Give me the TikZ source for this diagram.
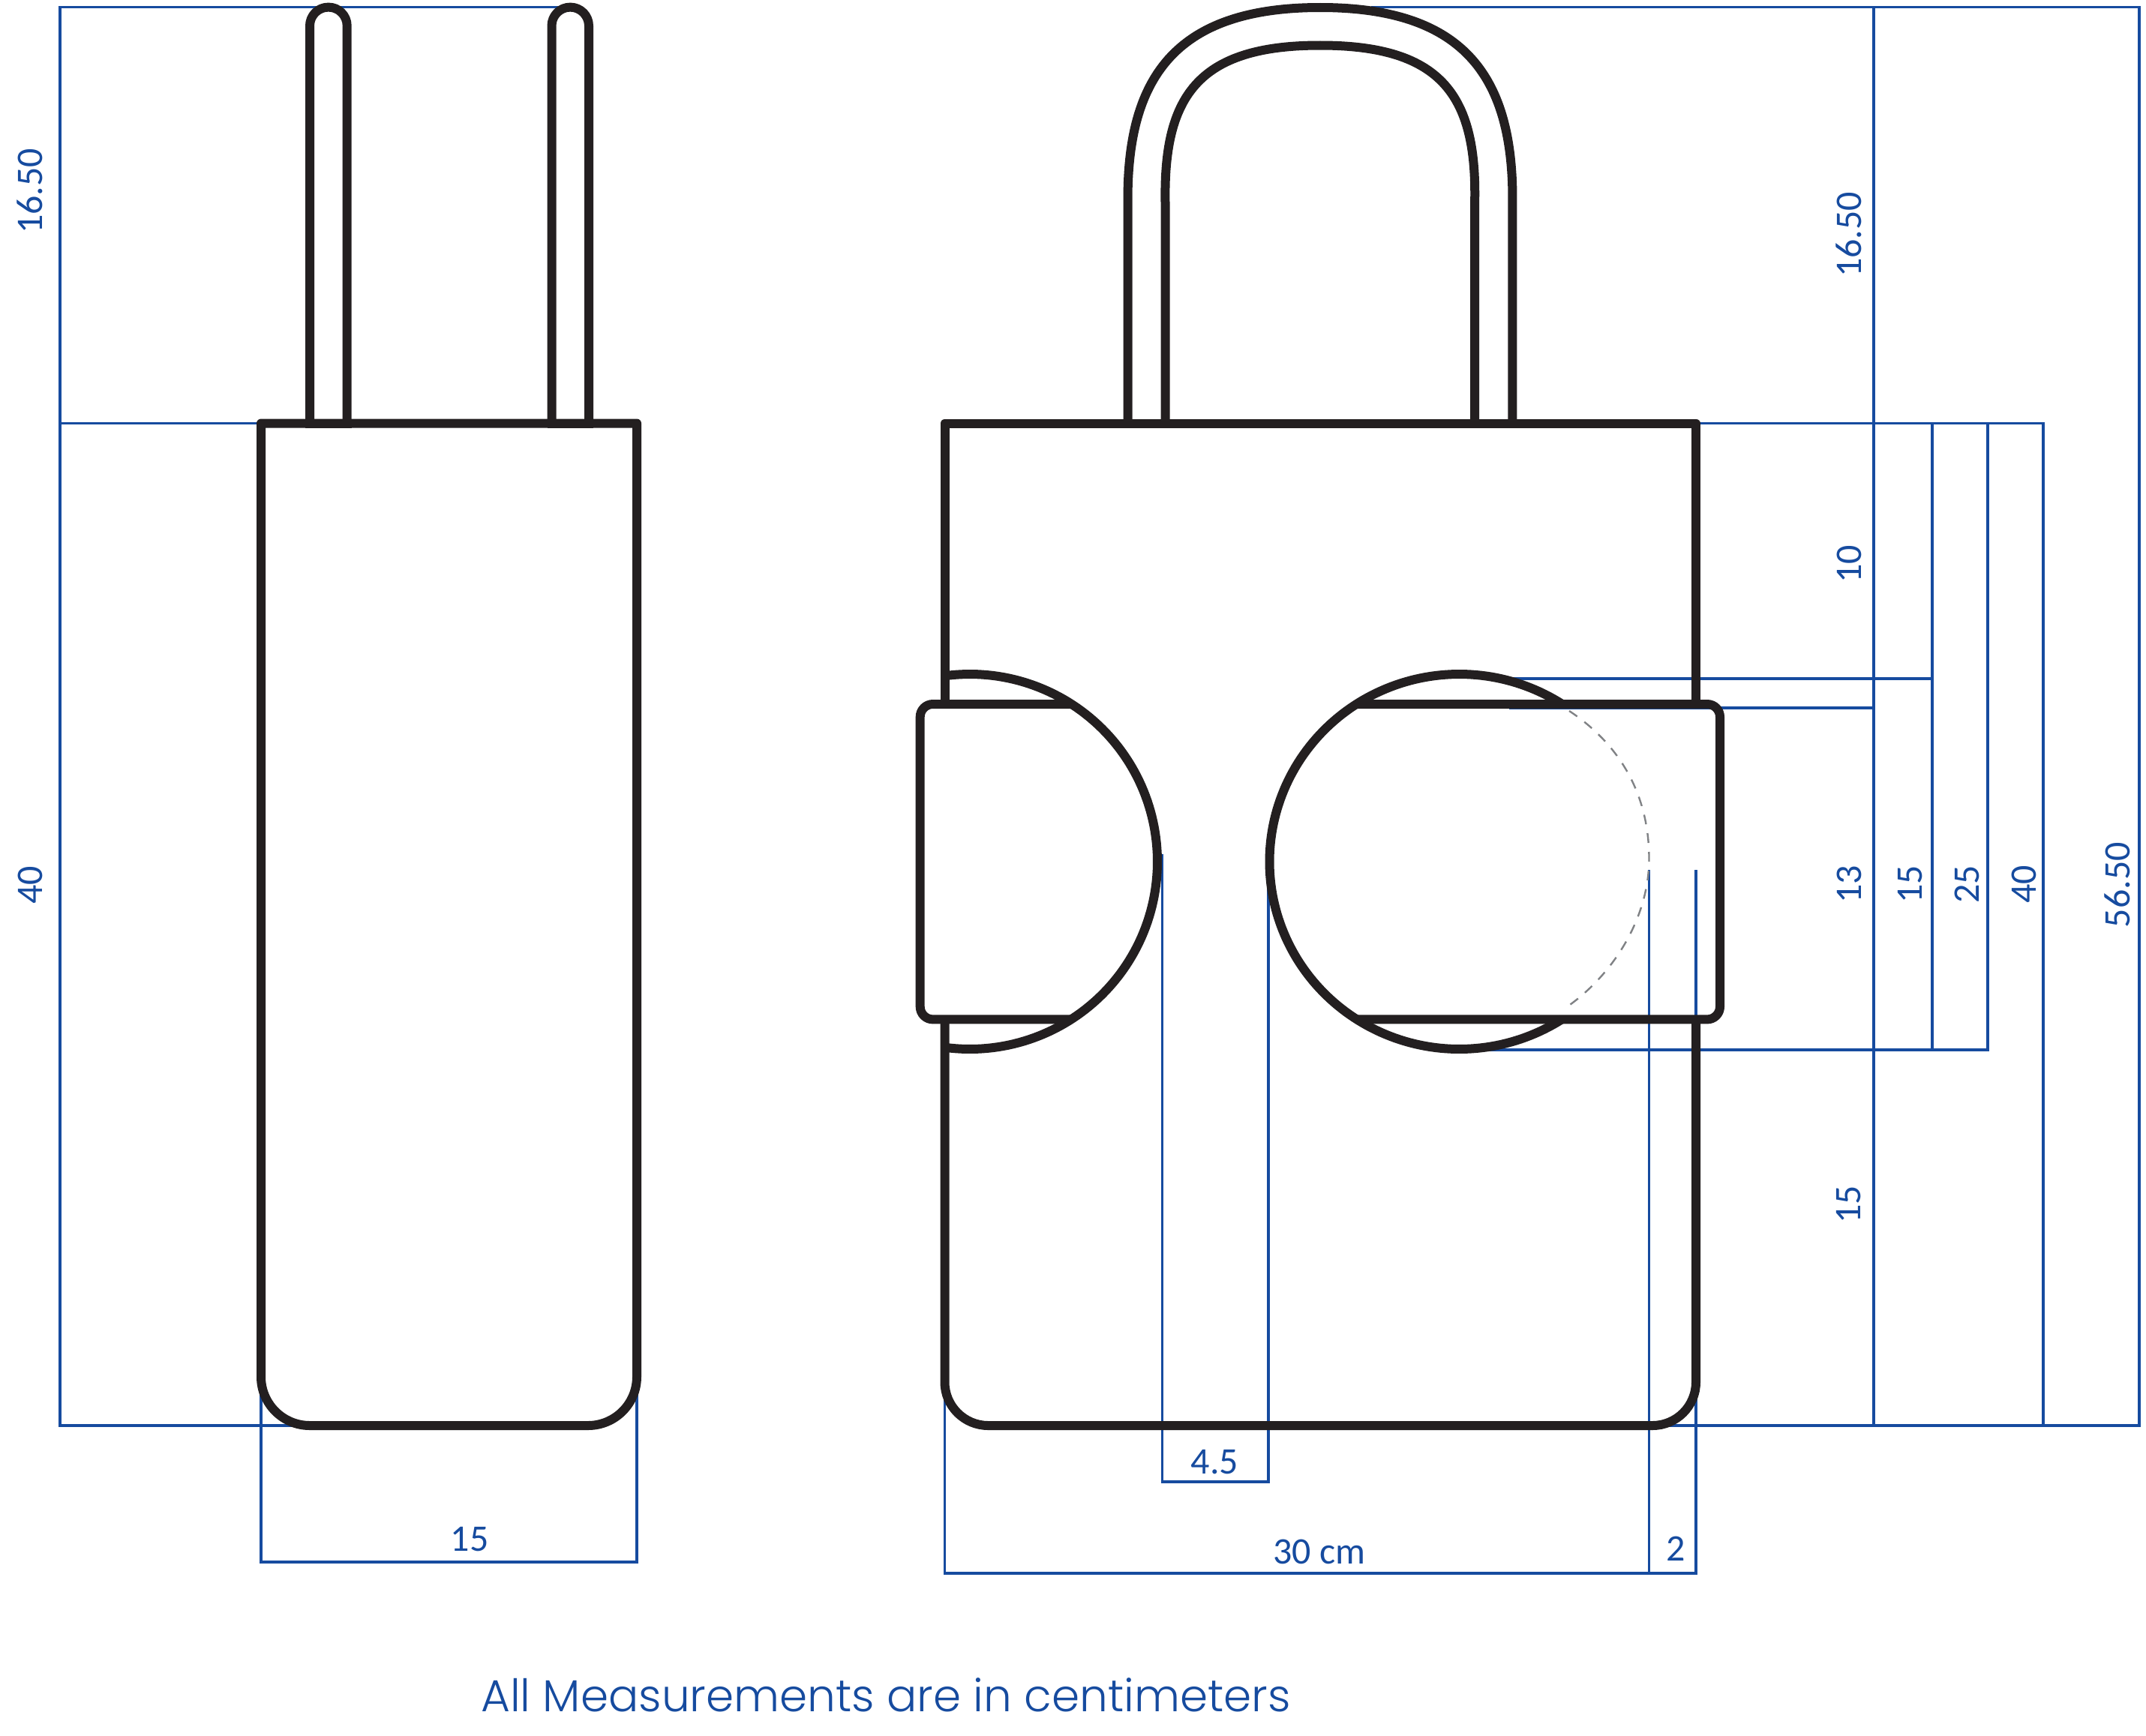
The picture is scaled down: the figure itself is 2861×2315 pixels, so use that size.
\documentclass[tikz,border=0pt]{standalone}
\usepackage{fontspec}
\setmainfont{Carlito}
\newfontfamily\footf{Poppins Light}
\definecolor{dimblue}{HTML}{164B9F}
\definecolor{inkblack}{HTML}{231F20}
\definecolor{hidgray}{HTML}{808285}
\tikzset{
  dimline/.style={draw=dimblue,line width=3.6pt,line cap=rect,line join=miter},
  outline/.style={draw=inkblack,line width=12pt,line cap=butt,line join=round},
  hiddenline/.style={draw=hidgray,line width=2.4pt,dash pattern=on 13pt off 12pt},
  dimlabel/.style={text=dimblue,inner sep=0pt,outer sep=0pt,font=\fontsize{50}{60}\selectfont},
  vlabel/.style={dimlabel,rotate=90},
}
\begin{document}
\begin{tikzpicture}[x=1pt,y=-1pt]
\useasboundingbox (0,0) rectangle (2861,2315);
% --- dimension lines, side view
\draw[dimline] (745,9.6) -- (80,9.6) -- (80,1901) -- (400,1901);
\draw[dimline] (80,564.5) -- (348,564.5);
\draw[dimline] (348,1850) -- (348,2083) -- (849,2083) -- (849,1850);
% --- dimension lines, front view
\draw[dimline] (1830,9.6) -- (2852,9.6) -- (2852,1901) -- (2226,1901);
\draw[dimline] (2498,9.6) -- (2498,1901);
\draw[dimline] (2261,564.5) -- (2724,564.5) -- (2724,1901);
\draw[dimline] (2576,564.5) -- (2576,1400);
\draw[dimline] (2650,564.5) -- (2650,1400) -- (1985,1400);
\draw[dimline] (2016,905) -- (2576,905);
\draw[dimline] (2014,944) -- (2498,944);
\draw[dimline] (1549.5,1141) -- (1549.5,1975.7) -- (1691,1975.7) -- (1691,1165);
\draw[dimline] (1259.6,1860) -- (1259.6,2098) -- (2261,2098) -- (2261,1162);
\draw[dimline] (2198.6,1162) -- (2198.6,2098);
% --- side view
\draw[outline] (849,564.5) [rounded corners=65pt] -- (849,1901) -- (348,1901) [sharp corners] -- (348,564.5) -- cycle;
\draw[outline,rounded corners=24.8pt] (413,564.5) -- (413,9.6) -- (462.7,9.6) -- (462.7,564.5);
\draw[outline,rounded corners=24.8pt] (735.5,564.5) -- (735.5,9.6) -- (785,9.6) -- (785,564.5);
\draw[outline] (407,564.5) -- (468.5,564.5);
\draw[outline] (729.5,564.5) -- (791,564.5);
% --- front view: handle
\draw[outline] (1503.6,564.5) -- (1503.6,275) .. controls (1501,105) and (1565,10) .. (1760,10)
  .. controls (1955,10) and (2019,105) .. (2016.4,275) -- (2016.4,564.5);
\draw[outline] (1553.6,564.5) -- (1553.6,275) .. controls (1550,130) and (1595,60.5) .. (1760,60.5)
  .. controls (1925,60.5) and (1970,130) .. (1966,275) -- (1966,564.5);
% --- front view: body
\draw[outline] (1259.5,939) -- (1259.5,564.5) -- (2261,564.5) -- (2261,939);
\draw[outline] (1259.5,1359.4) [rounded corners=58pt] -- (1259.5,1901) -- (2261,1901) [sharp corners] -- (2261,1359.4);
% --- front view: left pocket
\draw[outline] plot[domain=97.8:-97.8,samples=120] ({1293+250*cos(\x)},{1149-250*sin(\x)});
\draw[outline,rounded corners=17pt] (1429,939) -- (1226.7,939) -- (1226.7,1359.4) -- (1429,1359.4);
% --- front view: right pocket
\draw[outline] plot[domain=57.14:302.86,samples=160] ({1945.5+253*cos(\x)},{1149-250*sin(\x)});
\draw[outline,rounded corners=17pt] (1808,939) -- (2293,939) -- (2293,1359.4) -- (1808,1359.4);
\draw[hiddenline] (2092,948) .. controls (2160,993) and (2198.5,1060) .. (2198.5,1145)
  .. controls (2198.5,1220) and (2155,1295) .. (2092,1340.6);
% --- labels
\node[vlabel] (sideTop) at (40,255) {16.50};
\node[vlabel] (sideBody) at (40,1180) {40};
\node[dimlabel] (sideWidth) at (626,2053) {15};
\node[vlabel] (frontTop) at (2465,313) {16.50};
\node[vlabel] (frontTen) at (2465,752) {10};
\node[vlabel] (frontThirteen) at (2465,1179) {13};
\node[vlabel] (frontFifteen) at (2465,1606) {15};
\node[vlabel] (pocketFifteen) at (2547,1179) {15};
\node[vlabel] (pocketTwentyFive) at (2622,1179) {25};
\node[vlabel] (bodyForty) at (2698,1179) {40};
\node[vlabel] (totalHeight) at (2823,1180) {56.50};
\node[dimlabel] (gapWidth) at (1619.6,1950) {4.5};
\node[dimlabel] (frontWidth) at (1758.6,2069) {30 cm};
\node[dimlabel] (tabWidth) at (2234,2065) {2};
\node[text=dimblue,inner sep=0pt,font=\footf\fontsize{59.7}{72}\selectfont] (footer) at (1181,2260) {All Measurements are in centimeters};
\end{tikzpicture}
\end{document}
